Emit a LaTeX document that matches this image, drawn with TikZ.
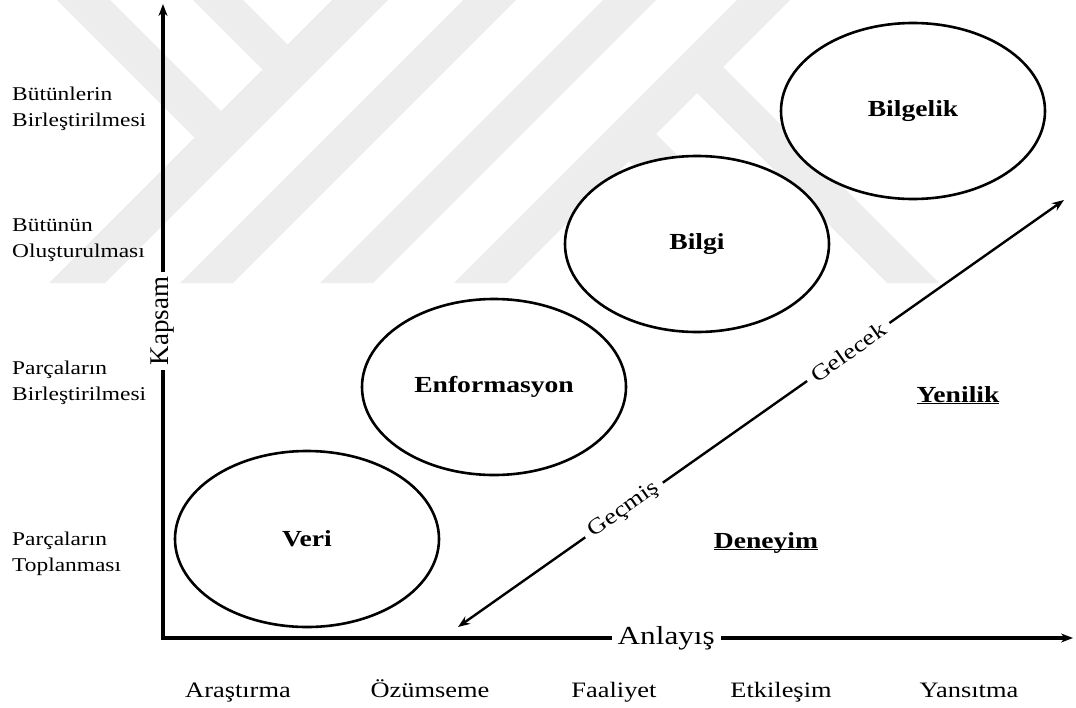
\documentclass[tikz,border=0pt]{standalone}
\usepackage{fontspec}
\setmainfont{Liberation Serif}[FakeStretch=1.2]
\newfontfamily\kapfont{Liberation Serif}
\usetikzlibrary{shapes.geometric,arrows.meta}
\definecolor{wmark}{gray}{0.93}
\tikzset{
  stage/.style={draw, ellipse, line width=2.6pt, fill=white, minimum width=264pt, minimum height=176pt, inner sep=0pt, font=\fontsize{23}{27}\selectfont\bfseries},
  level/.style={anchor=west, align=left, inner sep=0pt, font=\fontsize{19.5}{26}\selectfont},
  act/.style={anchor=base, inner sep=0pt, font=\fontsize{22}{26}\selectfont},
  zone/.style={anchor=base, inner sep=0pt, font=\fontsize{23}{27}\selectfont\bfseries},
  timeword/.style={sloped, fill=white, inner xsep=7pt, inner ysep=2pt, font=\fontsize{22}{26}\selectfont},
  wm/.style={fill=wmark, draw=none}
}
\begin{document}
\begin{tikzpicture}[x=1pt, y=-1pt, line join=miter, >={Stealth[length=12pt,width=9pt]}]
\useasboundingbox (0,0) rectangle (1076,707);
% watermark bands
\fill[wm] (332,0) -- (388,0) -- (105,283) -- (49,283) -- cycle;
\fill[wm] (57,0) -- (110,0) -- (235,125) -- (208.5,151.5) -- cycle;
\fill[wm] (193,0) -- (243,0) -- (301.5,58.5) -- (276.5,83.5) -- cycle;
\fill[wm] (463,0) -- (516,0) -- (233,283) -- (180,283) -- cycle;
\fill[wm] (603,0) -- (656,0) -- (373,283) -- (320,283) -- cycle;
\fill[wm] (737,0) -- (790,0) -- (507,283) -- (454,283) -- cycle;
\fill[wm] (708,52) -- (939,283) -- (887,283) -- (682,78) -- cycle;
\fill[wm] (641,119) -- (805,283) -- (751,283) -- (614,146) -- cycle;
% axes
\coordinate (ytop) at (163,4);
\coordinate (O) at (163,638);
\coordinate (xend) at (1073,638);
\draw[<->, line width=3.2pt] (ytop) -- node[pos=.5, rotate=90, fill=white, inner xsep=5pt, inner ysep=1pt, font=\kapfont\fontsize{27}{30}\selectfont] (kapsam) {Kapsam} (O)
  -- node[pos=.553, fill=white, inner xsep=6pt, inner ysep=1pt, font=\fontsize{26}{30}\selectfont] (anlayis) {Anlayış} (xend);
% levels
\node[level] (lv4) at (12,109) {Bütünlerin\\Birleştirilmesi};
\node[level] (lv3) at (12,240) {Bütünün\\Oluşturulması};
\node[level] (lv2) at (12,383) {Parçaların\\Birleştirilmesi};
\node[level] (lv1) at (12,554) {Parçaların\\Toplanması};
% activities
\node[act] (ak1) at (238,697) {Araştırma};
\node[act] (ak2) at (430,697) {Özümseme};
\node[act] (ak3) at (614,697) {Faaliyet};
\node[act] (ak4) at (781,697) {Etkileşim};
\node[act] (ak5) at (969,697) {Yansıtma};
% stages
\node[stage] (veri) at (307,539) {Veri};
\node[stage] (enf) at (494,387) {Enformasyon};
\node[stage] (bilgi) at (697,244) {Bilgi};
\node[stage] (bilgelik) at (913,111) {Bilgelik};
% time
\coordinate (past) at (458,627);
\coordinate (future) at (1064,200);
\draw[<->, line width=2.4pt] (past) -- node[timeword, pos=.274] (gecmis) {Geçmiş} node[timeword, pos=.644] (gelecek) {Gelecek} (future);
\node[zone] (deneyim) at (766,548) {\underline{\smash{Deneyim}}};
\node[zone] (yenilik) at (958,402) {\underline{\smash{Yenilik}}};
\end{tikzpicture}
\end{document}
